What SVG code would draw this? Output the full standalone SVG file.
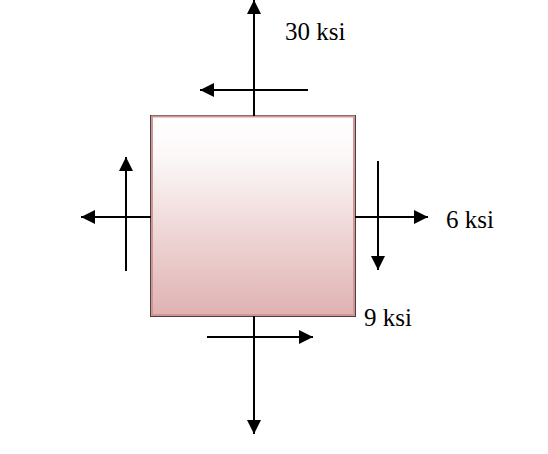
<svg xmlns="http://www.w3.org/2000/svg" width="548" height="454" viewBox="0 0 548 454">
<style>
.ln{stroke:#000;stroke-width:2;fill:none}
.lb{font-family:"Liberation Serif","Times New Roman",serif;font-size:25px;fill:#000}
</style>
<defs>
<linearGradient id="g" x1="0" y1="0" x2="0" y2="1">
<stop offset="0" stop-color="#ffffff"/>
<stop offset="0.2" stop-color="#fcf8f8"/>
<stop offset="1" stop-color="#e0b2b2"/>
</linearGradient>
<marker id="a" viewBox="0 0 14 14" refX="14" refY="7" markerWidth="14" markerHeight="14" markerUnits="userSpaceOnUse" orient="auto">
<path d="M0,0 L14,7 L0,14 z" fill="#000"/>
</marker>
</defs>
<g id="element">
<rect x="150.5" y="115.5" width="205" height="201" fill="none" stroke="#444" stroke-width="1"/>
<rect x="152" y="116.5" width="202" height="198.5" fill="url(#g)" stroke="#d49494" stroke-width="2"/>
</g>
<g id="connectors">
<line class="ln" x1="254" y1="116" x2="254" y2="0" marker-end="url(#a)"/>
<line class="ln" x1="308" y1="90" x2="200" y2="90" marker-end="url(#a)"/>
<line class="ln" x1="151" y1="217" x2="81" y2="217" marker-end="url(#a)"/>
<line class="ln" x1="126" y1="271" x2="126" y2="157" marker-end="url(#a)"/>
<line class="ln" x1="355" y1="217" x2="428" y2="217" marker-end="url(#a)"/>
<line class="ln" x1="378" y1="161" x2="378" y2="270" marker-end="url(#a)"/>
<line class="ln" x1="254" y1="316" x2="254" y2="434" marker-end="url(#a)"/>
<line class="ln" x1="207" y1="337" x2="313" y2="337" marker-end="url(#a)"/>
</g>
<g id="labels">
<text class="lb" x="285" y="40">30 ksi</text>
<text class="lb" x="446" y="228">6 ksi</text>
<text class="lb" x="364" y="326">9 ksi</text>
</g>
</svg>
